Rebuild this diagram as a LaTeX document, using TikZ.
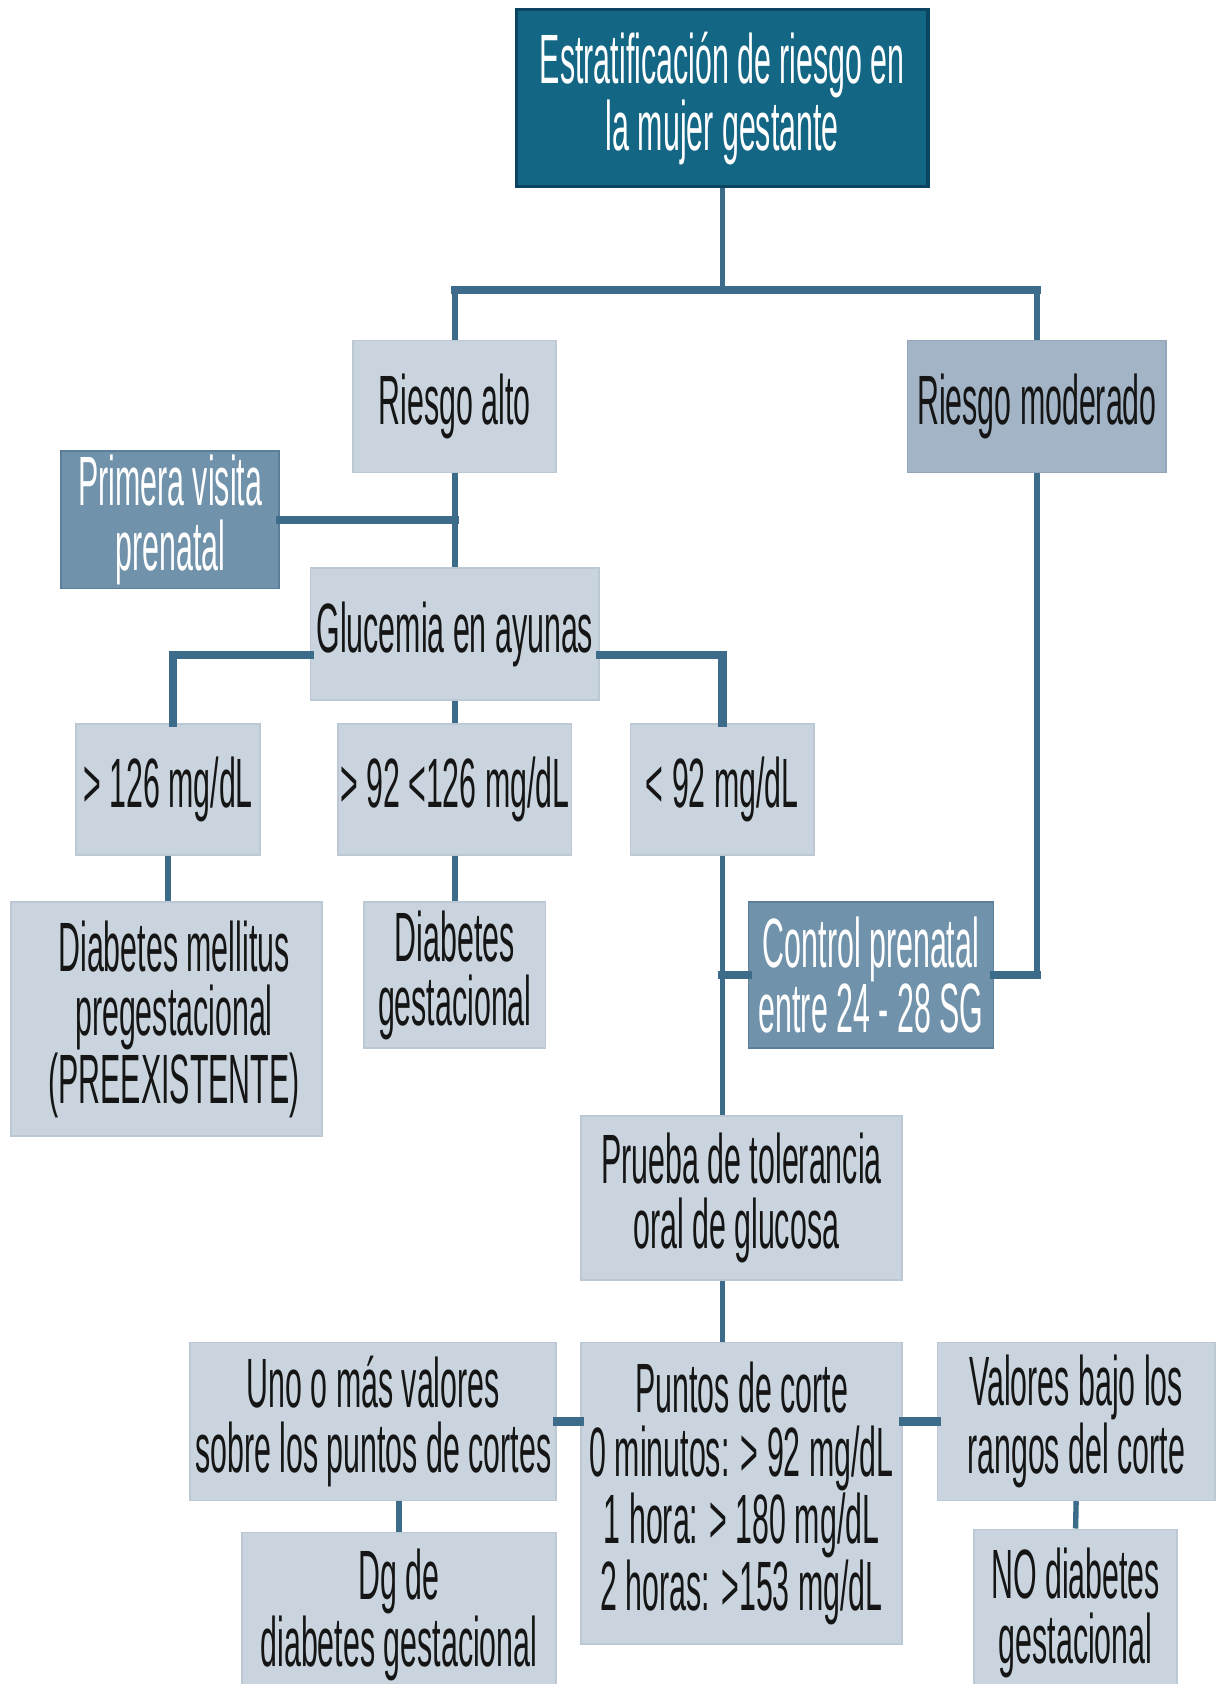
\documentclass[tikz,border=0pt]{standalone}
\usepackage{fontspec}
\setmainfont[FakeStretch=0.435]{Liberation Sans}
\definecolor{topfill}{HTML}{136684}
\definecolor{topdraw}{HTML}{0B4562}
\definecolor{lightfill}{HTML}{C9D4DE}
\definecolor{lightdraw}{HTML}{BCC8D4}
\definecolor{medfill}{HTML}{7092AB}
\definecolor{meddraw}{HTML}{5B7F9A}
\definecolor{rmfill}{HTML}{A3B4C6}
\definecolor{rmdraw}{HTML}{94A6B9}
\definecolor{linecol}{HTML}{3D6B8A}
\definecolor{txtdark}{HTML}{151515}
\tikzset{
  box/.style={rectangle, inner sep=0pt, align=center, font=\fontsize{32.5}{30}\selectfont},
  topbox/.style={box, fill=topfill, draw=topdraw, line width=1.5pt, text=white},
  lightbox/.style={box, fill=lightfill, draw=lightdraw, line width=0.8pt, text=txtdark},
  medbox/.style={box, fill=medfill, draw=meddraw, line width=0.8pt, text=white},
  rmbox/.style={box, fill=rmfill, draw=rmdraw, line width=0.8pt, text=txtdark},
  vline/.style={draw=linecol, line width=2.5pt},
  hline/.style={draw=linecol, line width=4pt, line cap=rect},
}
\begin{document}
\begin{tikzpicture}[x=0.5pt,y=-0.5pt]
\useasboundingbox (0,0) rectangle (1132,1568);
\clip (0,0) rectangle (1132,1568);
\fill[white] (0,0) rectangle (1132,1568);

\node[topbox, minimum width=191.5pt, minimum height=82.5pt] (top) at (672.5,91.5) {Estratificación de riesgo en\\la mujer gestante};
\node[lightbox, minimum width=94.5pt, minimum height=61.5pt] (ra) at (423.5,378.5) {Riesgo alto};
\node[rmbox, minimum width=120.5pt, minimum height=61.5pt] (rm) at (965.5,378.5) {Riesgo moderado};
\node[medbox, minimum width=101.5pt, minimum height=64pt] (pv) at (158.5,484) {Primera visita\\prenatal};
\node[lightbox, minimum width=134.5pt, minimum height=61.5pt] (gl) at (423.5,590.5) {Glucemia en ayunas};
\node[lightbox, minimum width=85.5pt, minimum height=61pt] (g1) at (156.5,735) {> 126 mg/dL};
\node[lightbox, minimum width=108.5pt, minimum height=61pt] (g2) at (423.5,735) {> 92 <126 mg/dL};
\node[lightbox, minimum width=85.5pt, minimum height=61pt] (g3) at (672.5,735) {< 92 mg/dL};
\node[lightbox, minimum width=145pt, minimum height=109pt] (dm) at (155,949) {\hspace*{7pt}Diabetes mellitus\\\hspace*{7pt}pregestacional\\\hspace*{7pt}(PREEXISTENTE)};
\node[lightbox, minimum width=84.5pt, minimum height=68pt] (dg) at (423.5,908) {Diabetes\\gestacional};
\node[medbox, minimum width=114pt, minimum height=68pt] (cp) at (811,908) {Control prenatal\\entre 24 - 28 SG};
\node[lightbox, minimum width=149.5pt, minimum height=76.5pt] (pt) at (690.5,1115.5) {\raisebox{-3pt}{Prueba de tolerancia}\\\raisebox{-3pt}{oral de glucosa}\hspace*{5pt}};
\node[lightbox, minimum width=170.5pt, minimum height=73.5pt] (un) at (347.5,1323.5) {\raisebox{-3pt}{Uno o más valores}\\\raisebox{-3pt}{sobre los puntos de cortes}};
\node[lightbox, minimum width=149.5pt, minimum height=140.5pt] (pc) at (690.5,1390.5) {Puntos de corte\\0 minutos: > 92 mg/dL\\1 hora: > 180 mg/dL\\2 horas: >153 mg/dL};
\node[lightbox, minimum width=129pt, minimum height=73.5pt] (va) at (1002,1323.5) {Valores bajo los\\rangos del corte};
\node[lightbox, minimum width=146.5pt, minimum height=76.5pt] (dgd) at (371.5,1503.5) {Dg de\\diabetes gestacional};
\node[lightbox, minimum width=94.5pt, minimum height=78pt] (no) at (1001.5,1502) {NO diabetes\\gestacional};

\coordinate (j1) at (672.5,270);
\draw[vline] (top.south) -- (j1);
\draw[vline] (ra.north) -- (ra.north |- j1);
\draw[vline] (rm.north) -- (rm.north |- j1);
\draw[hline] (ra.north |- j1) -- (rm.north |- j1);

\draw[vline] (ra.south) -- (gl.north);
\draw[hline] (pv.east) -- (pv.east -| ra.south);

\draw[hline] ([yshift=-9.75pt]gl.west) -| ([xshift=2.25pt]g1.north);
\draw[hline] ([yshift=-9.75pt]gl.east) -| (g3.north);
\draw[vline] (gl.south) -- (g2.north);

\draw[vline] (g1.south) -- (dm.north -| g1.south);
\draw[vline] (g2.south) -- (dg.north);
\draw[vline] (g3.south) -- (pt.north -| g3.south);
\draw[hline] (cp.west) -- (cp.west -| g3.south);
\draw[vline] (rm.south) -- (rm.south |- cp.east);
\draw[hline] (cp.east) -- (rm.south |- cp.east);

\draw[vline] (pt.south -| g3.south) -- (pc.north -| g3.south);
\draw[hline] (un.east) -- (un.east -| pc.west);
\draw[hline] (va.west) -- (va.west -| pc.east);
\draw[vline] (un.south -| dgd.north) -- (dgd.north);
\draw[vline] (va.south) -- (no.north);
\end{tikzpicture}
\end{document}
